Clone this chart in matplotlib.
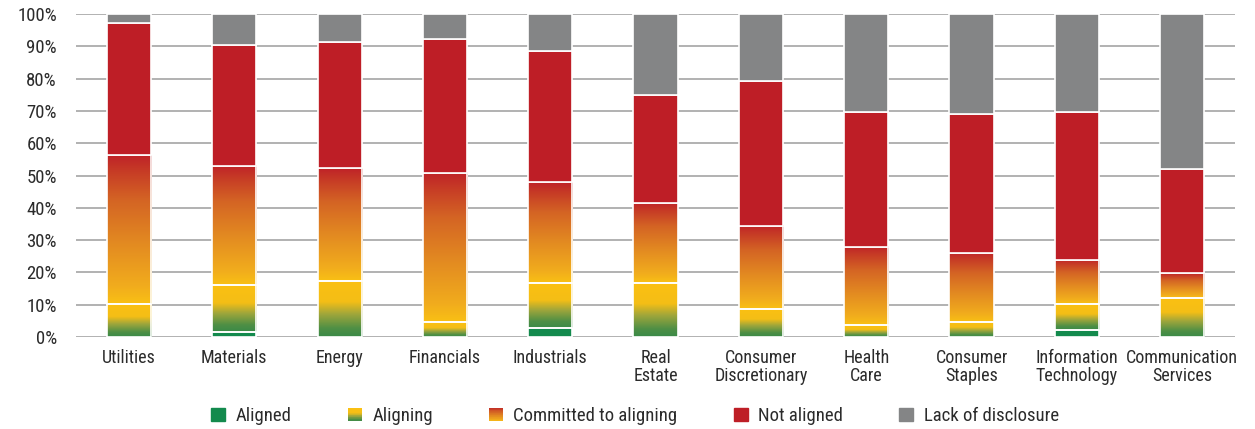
import numpy as np
import matplotlib
matplotlib.use("Agg")
import matplotlib.pyplot as plt
from matplotlib.colors import LinearSegmentedColormap
from matplotlib.patches import Rectangle
from matplotlib.legend_handler import HandlerBase

plt.rcParams['font.family'] = ['Roboto Condensed', 'DejaVu Sans']

# Share of companies per sector (%), bottom to top
sectors = ['Utilities', 'Materials', 'Energy', 'Financials', 'Industrials',
           'Real\nEstate', 'Consumer\nDiscretionary', 'Health\nCare',
           'Consumer\nStaples', 'Information\nTechnology', 'Communication\nServices']
aligned = [0, 1.6, 0, 0, 2.9, 0, 0, 0, 0, 2.2, 0]
aligning = [10.2, 14.4, 17.4, 4.5, 13.8, 16.6, 8.7, 3.7, 4.7, 7.9, 12.1]
committed = [46.1, 36.9, 34.8, 46.2, 31.2, 25.0, 25.8, 24.3, 21.4, 13.9, 7.7]
not_aligned = [41.1, 37.7, 39.2, 41.6, 40.7, 33.3, 44.8, 41.6, 43.1, 45.7, 32.1]
lack_disclosure = [2.6, 9.4, 8.6, 7.7, 11.4, 25.1, 20.7, 30.4, 30.8, 30.3, 48.1]

series_names = ['Aligned', 'Aligning', 'Committed to aligning', 'Not aligned', 'Lack of disclosure']

GREEN = '#138A4D'
RED = '#BE1E26'
GREY = '#848586'
TEXT = '#2B2B2B'

# gradient fills for the two "in progress" categories
aligning_cmap = LinearSegmentedColormap.from_list('aligning', [
    (0.0, '#3A8A48'), (0.15, '#4E8F45'), (0.4, '#9FA63B'),
    (0.62, '#F4BE16'), (1.0, '#FBC012')])
committed_cmap = LinearSegmentedColormap.from_list('committed', [
    (0.0, '#F9C014'), (0.12, '#F1AC1D'), (0.4, '#E38B21'),
    (0.7, '#D46424'), (0.9, '#C63A26'), (1.0, '#BF2228')])

fig = plt.figure(figsize=(12.55, 4.29), dpi=100)
ax = fig.add_axes([0.0608, 0.2145, 0.9232, 0.7525])

x = np.arange(len(sectors))
width = 0.42
ramp = np.linspace(0, 1, 256).reshape(-1, 1)

bottom = np.zeros(len(sectors))
for name, vals in zip(series_names, [aligned, aligning, committed, not_aligned, lack_disclosure]):
    vals = np.array(vals, dtype=float)
    for i in range(len(sectors)):
        if vals[i] <= 0:
            continue
        y0, y1 = bottom[i], bottom[i] + vals[i]
        if name == 'Aligning' or name == 'Committed to aligning':
            cmap = aligning_cmap if name == 'Aligning' else committed_cmap
            ax.imshow(ramp, cmap=cmap, origin='lower', aspect='auto',
                      extent=(x[i] - width / 2, x[i] + width / 2, y0, y1), zorder=2)
            ax.bar(x[i], vals[i], width, bottom=y0, facecolor='none',
                   edgecolor='white', linewidth=1.2, zorder=3)
        else:
            color = {'Aligned': GREEN, 'Not aligned': RED, 'Lack of disclosure': GREY}[name]
            ax.bar(x[i], vals[i], width, bottom=y0, color=color,
                   edgecolor='white', linewidth=1.2, zorder=3)
    bottom += vals

ax.set_xlim(-0.5, len(sectors) - 0.5)
ax.set_ylim(0, 100)
ax.set_yticks(np.arange(0, 101, 10))
ax.set_yticklabels([f'{v}%' for v in range(0, 101, 10)])
ax.set_xticks(x)
ax.set_xticklabels(sectors, linespacing=1.0)
ax.tick_params(axis='both', length=0, labelsize=13, colors=TEXT)
ax.tick_params(axis='y', pad=14, labelsize=13.5)
ax.tick_params(axis='x', pad=9)
ax.grid(axis='y', color='#ABABAB', linewidth=1.3, zorder=0)
ax.set_axisbelow(True)
for s in ax.spines.values():
    s.set_visible(False)


class GradientHandler(HandlerBase):
    # draws the legend key as a stack of thin coloured slices
    def __init__(self, cmap):
        super().__init__()
        self.cmap = cmap

    def create_artists(self, legend, orig_handle, xdescent, ydescent,
                       width, height, fontsize, trans):
        n = 20
        parts = []
        for k in range(n):
            r = Rectangle((-xdescent, -ydescent + height * k / n), width, height / n + 0.05,
                          facecolor=self.cmap((k + 0.5) / n), edgecolor='none',
                          transform=trans)
            parts.append(r)
        return parts


handles = [Rectangle((0, 0), 1, 1, color=GREEN),
           Rectangle((0, 0), 1, 1, color='#FBC012'),
           Rectangle((0, 0), 1, 1, color='#E38B21'),
           Rectangle((0, 0), 1, 1, color=RED),
           Rectangle((0, 0), 1, 1, color=GREY)]
leg = fig.legend(handles, series_names, loc='center', bbox_to_anchor=(0.506, 0.03),
                 ncol=5, frameon=False, fontsize=13.5, handlelength=0.75, handleheight=0.75,
                 handletextpad=0.55, columnspacing=3.0,
                 handler_map={handles[1]: GradientHandler(aligning_cmap),
                              handles[2]: GradientHandler(committed_cmap)})
for t in leg.get_texts():
    t.set_color(TEXT)

fig.savefig('out.png', dpi=100)
